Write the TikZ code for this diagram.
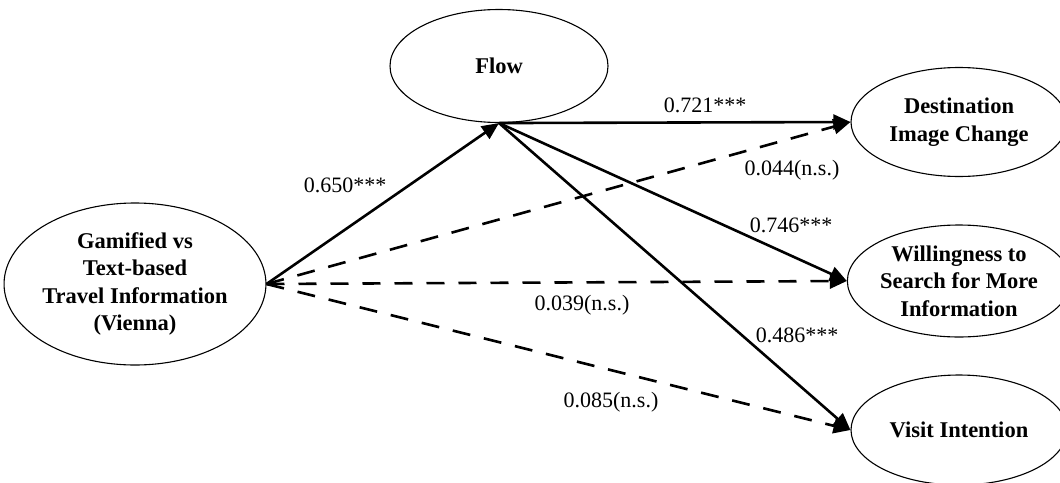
\documentclass[tikz,border=0pt]{standalone}
\usepackage{fontspec}
\setmainfont{Liberation Serif}
\usetikzlibrary{shapes.geometric,arrows.meta}

\tikzset{
  construct/.style={draw, ellipse, line width=1.1pt, inner sep=0pt,
    align=center, font=\fontsize{22.5}{27.5}\selectfont\bfseries},
  path/.style={line width=2.6pt, -{Triangle[length=17pt,width=15pt]}},
  nspath/.style={path, dash pattern=on 18pt off 14pt},
  coef/.style={font=\fontsize{22}{26}\selectfont, inner sep=0pt}
}

\begin{document}
\begin{tikzpicture}[x=1pt, y=-1pt]
  \useasboundingbox (0,0) rectangle (1060,482);
  \clip (0,0) rectangle (1060,482);

  % latent constructs
  \node[construct, minimum width=218pt, minimum height=113pt] (flow) at (499,66) {Flow};
  \node[construct, minimum width=244pt, minimum height=162pt] (src) at (135,284)
    {Gamified vs\\Text-based\\Travel Information\\(Vienna)};
  \node[construct, minimum width=216pt, minimum height=109pt] (dic) at (959,122)
    {Destination\\Image Change};
  \node[construct, minimum width=216pt, minimum height=112pt] (wsi) at (959,281)
    {Willingness to\\Search for More\\Information};
  \node[construct, minimum width=216pt, minimum height=110pt] (vi) at (959,430)
    {Visit Intention};

  % significant paths
  \draw[path] (src.east) -- (flow.south);
  \draw[path] (flow.south) -- (dic.west);
  \draw[path] (flow.south) -- (wsi.west);
  \draw[path] (flow.south) -- (vi.west);

  % non-significant direct paths
  \draw[nspath] (src.east) -- (dic.west);
  \draw[nspath] (src.east) -- (wsi.west);
  \draw[nspath] (src.east) -- (vi.west);

  % path coefficients
  \node[coef] (c1) at (345,185) {0.650***};
  \node[coef] (c2) at (705,105) {0.721***};
  \node[coef] (c3) at (792,170) {0.044(n.s.)};
  \node[coef] (c4) at (791,225) {0.746***};
  \node[coef] (c5) at (582,305) {0.039(n.s.)};
  \node[coef] (c6) at (797,335) {0.486***};
  \node[coef] (c7) at (611,402) {0.085(n.s.)};
\end{tikzpicture}
\end{document}
